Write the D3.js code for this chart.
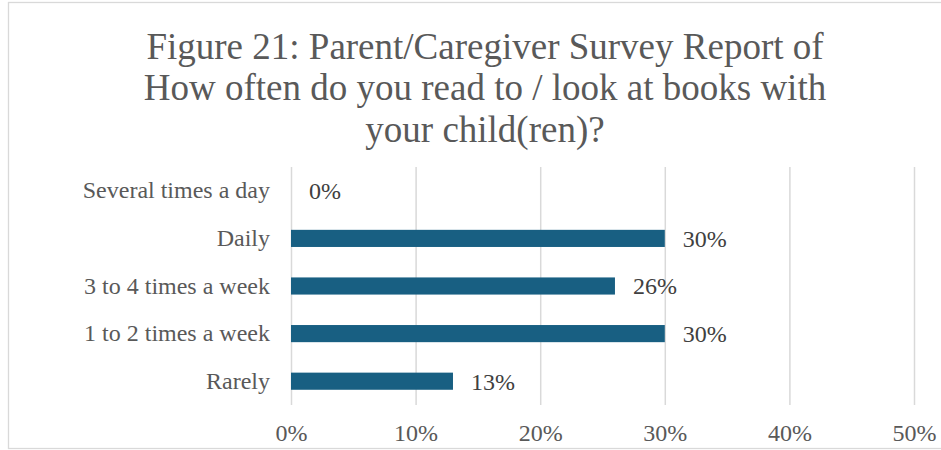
<!DOCTYPE html>
<html>
<head>
<meta charset="utf-8">
<script src="https://cdn.jsdelivr.net/npm/d3@7/dist/d3.min.js"></script>
<style>
  html, body { margin: 0; padding: 0; background: #fff; }
  svg { display: block; }
  text { font-family: "Liberation Serif", "Times New Roman", serif; }
</style>
</head>
<body>
<svg id="chart" width="941" height="450"></svg>
<script>
// Survey responses: share of parents/caregivers per reading frequency
const categories = ["Several times a day", "Daily", "3 to 4 times a week", "1 to 2 times a week", "Rarely"];
const percents = [0, 30, 26, 30, 13];
const tickValues = [0, 10, 20, 30, 40, 50];
const titleLines = [
  "Figure 21: Parent/Caregiver Survey Report of",
  "How often do you read to / look at books with",
  "your child(ren)?"
];

const svg = d3.select("#chart");
const W = 941, H = 450;
const margin = { left: 291, right: 27, top: 167, bottom: 45 };
const FONT = "Liberation Serif, Times New Roman, serif";

// outer chart frame
svg.append("rect")
  .attr("x", 8.5).attr("y", 2.5)
  .attr("width", 1000).attr("height", 446)
  .attr("fill", "#fff").attr("stroke", "#d9d9d9").attr("stroke-width", 1.3);

// title
svg.append("g").selectAll("text")
  .data(titleLines)
  .join("text")
  .attr("x", 485)
  .attr("y", (d, i) => 58.5 + i * 41.8)
  .attr("text-anchor", "middle")
  .attr("font-size", 37)
  .attr("fill", "#595959")
  .text(d => d);

const x = d3.scaleLinear().domain([0, 50]).range([margin.left, W - margin.right]);
const y = d3.scaleBand().domain(categories)
  .range([margin.top, H - margin.bottom])
  .paddingInner(0.64).paddingOuter(0.32);

// vertical gridlines and percent ticks
svg.append("g")
  .attr("transform", `translate(0,${H - margin.bottom})`)
  .call(d3.axisBottom(x).tickValues(tickValues)
    .tickSize(-(H - margin.top - margin.bottom))
    .tickFormat(d => d + "%")
    .tickPadding(19))
  .call(g => g.select(".domain").remove())
  .call(g => g.selectAll(".tick line").attr("stroke", "#d9d9d9").attr("stroke-width", 1.5))
  .call(g => g.selectAll(".tick text")
    .attr("font-size", 24)
    .attr("fill", "#595959")
    .attr("font-family", FONT));

// category labels
svg.append("g")
  .attr("transform", `translate(${margin.left},0)`)
  .call(d3.axisLeft(y).tickSize(0).tickPadding(21))
  .call(g => g.select(".domain").remove())
  .call(g => g.selectAll(".tick text")
    .attr("font-size", 24)
    .attr("fill", "#595959")
    .attr("font-family", FONT));

// bars
svg.append("g").selectAll("rect")
  .data(categories)
  .join("rect")
  .attr("x", x(0))
  .attr("y", d => y(d))
  .attr("width", (d, i) => x(percents[i]) - x(0))
  .attr("height", y.bandwidth())
  .attr("fill", "#185f82");

// value labels
svg.append("g").selectAll("text")
  .data(categories)
  .join("text")
  .attr("x", (d, i) => x(percents[i]) + 18)
  .attr("y", d => y(d) + y.bandwidth() / 2)
  .attr("dy", "0.35em")
  .attr("font-size", 24)
  .attr("fill", "#404040")
  .text((d, i) => percents[i] + "%");
</script>
</body>
</html>
